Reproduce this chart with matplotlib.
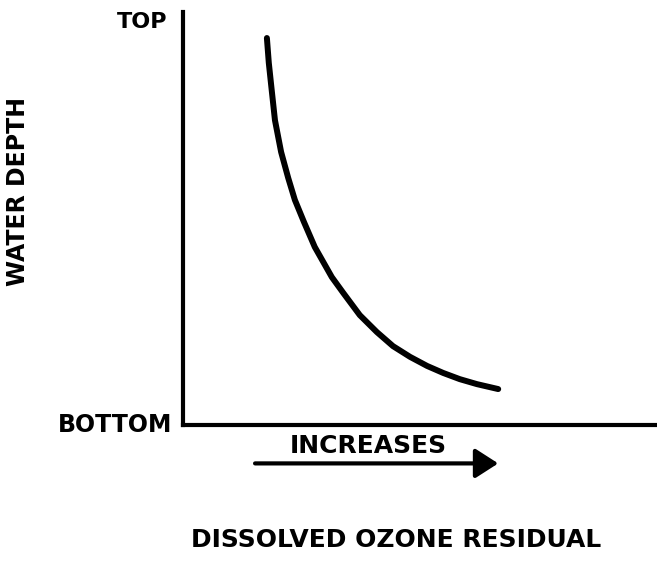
import matplotlib
matplotlib.use("Agg")
import matplotlib.pyplot as plt

# Ozone residual (relative) vs depth position (0 = bottom, 1 = top)
residual = [0.177, 0.181, 0.186, 0.194, 0.207, 0.222, 0.236, 0.255, 0.278,
            0.314, 0.338, 0.373, 0.409, 0.443, 0.479, 0.515, 0.549, 0.584,
            0.620, 0.665]
depth = [0.937, 0.877, 0.823, 0.738, 0.661, 0.598, 0.545, 0.492, 0.431,
         0.358, 0.320, 0.266, 0.225, 0.191, 0.165, 0.143, 0.126, 0.111,
         0.099, 0.087]

y_label = "WATER DEPTH"
x_label = "DISSOLVED OZONE RESIDUAL"
top_label = "TOP"
bottom_label = "BOTTOM"
arrow_label = "INCREASES"

fig = plt.figure(figsize=(6.57, 5.61), dpi=100)
ax = fig.add_axes([183 / 657, 136 / 561, 474 / 657, 413 / 561])

ax.plot(residual, depth, color="black", linewidth=4.3,
        solid_capstyle="round", solid_joinstyle="round")

ax.set_xlim(0, 1)
ax.set_ylim(0, 1)
ax.set_xticks([])
ax.set_yticks([])
for side in ("top", "right"):
    ax.spines[side].set_visible(False)
for side in ("left", "bottom"):
    ax.spines[side].set_linewidth(3)
    ax.spines[side].set_color("black")

font = dict(fontweight="bold", color="black", transform=ax.transAxes,
            clip_on=False)
ax.text(-0.032, 0.976, top_label, ha="right", va="center", fontsize=16, **font)
ax.text(-0.023, 0.0, bottom_label, ha="right", va="center", fontsize=17, **font)
ax.text(-0.348, 0.565, y_label, ha="center", va="center", rotation=90,
        fontsize=17, **font)
ax.text(0.39, -0.052, arrow_label, ha="center", va="center", fontsize=18, **font)
ax.text(0.449, -0.278, x_label, ha="center", va="center", fontsize=18, **font)

# "increases" arrow under the x axis
ax.annotate("", xy=(0.665, -0.093), xytext=(0.152, -0.093),
            xycoords="axes fraction", textcoords="axes fraction",
            annotation_clip=False,
            arrowprops=dict(arrowstyle="-|>,head_length=1.4,head_width=0.9",
                            color="black", linewidth=3.0,
                            shrinkA=0, shrinkB=0))

fig.savefig("out.png", dpi=100, facecolor="white")
